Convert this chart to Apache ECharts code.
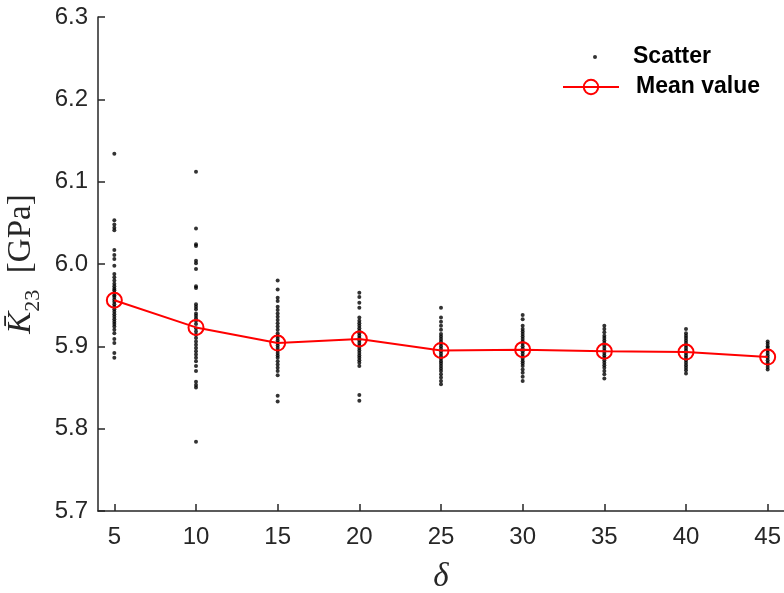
<!DOCTYPE html>
<html>
<head>
<meta charset="utf-8">
<script src="https://cdn.jsdelivr.net/npm/echarts@6/dist/echarts.min.js"></script>
<style>html,body{margin:0;padding:0;background:#fff}#c{width:784px;height:593px}</style>
</head>
<body>
<div id="c"></div>
<script>
// ---- data ----
var deltas = [5, 10, 15, 20, 25, 30, 35, 40, 45];
var xTickLabels = ['5', '10', '15', '20', '25', '30', '35', '40', '45'];
var yTickLabels = ['5.7', '5.8', '5.9', '6.0', '6.1', '6.2', '6.3'];
var meanValues = [5.956, 5.923, 5.904, 5.909, 5.895, 5.896, 5.894, 5.893, 5.887];

var scatter5 = [6.134, 6.053, 6.048, 6.044, 6.041, 6.017, 6.011, 6.006, 5.998, 5.988, 5.984, 5.980, 5.976, 5.973, 5.970, 5.968, 5.965, 5.962, 5.960, 5.957, 5.954, 5.951, 5.948, 5.945, 5.942, 5.939, 5.936, 5.933, 5.930, 5.927, 5.924, 5.920, 5.916, 5.909, 5.904, 5.892, 5.886];
var scatter10 = [6.112, 6.043, 6.024, 6.022, 6.004, 6.001, 5.994, 5.973, 5.971, 5.951, 5.948, 5.945, 5.940, 5.937, 5.934, 5.931, 5.927, 5.922, 5.918, 5.914, 5.910, 5.906, 5.902, 5.898, 5.894, 5.890, 5.886, 5.882, 5.876, 5.870, 5.857, 5.853, 5.850, 5.784];
var scatter15 = [5.980, 5.969, 5.959, 5.955, 5.948, 5.944, 5.940, 5.936, 5.932, 5.928, 5.924, 5.920, 5.916, 5.913, 5.910, 5.907, 5.904, 5.901, 5.898, 5.895, 5.892, 5.889, 5.886, 5.882, 5.878, 5.874, 5.870, 5.865, 5.840, 5.833];
var scatter20 = [5.965, 5.960, 5.953, 5.947, 5.935, 5.931, 5.928, 5.925, 5.922, 5.919, 5.916, 5.913, 5.910, 5.907, 5.904, 5.901, 5.898, 5.895, 5.892, 5.889, 5.886, 5.883, 5.880, 5.876, 5.841, 5.834];
var scatter25 = [5.947, 5.935, 5.930, 5.925, 5.920, 5.915, 5.912, 5.909, 5.906, 5.903, 5.900, 5.897, 5.894, 5.891, 5.888, 5.885, 5.882, 5.879, 5.876, 5.873, 5.870, 5.866, 5.862, 5.858, 5.854];
var scatter30 = [5.938, 5.933, 5.925, 5.921, 5.918, 5.915, 5.912, 5.909, 5.906, 5.903, 5.900, 5.897, 5.894, 5.891, 5.888, 5.885, 5.882, 5.879, 5.876, 5.872, 5.868, 5.863, 5.858];
var scatter35 = [5.925, 5.921, 5.917, 5.913, 5.910, 5.907, 5.904, 5.901, 5.898, 5.895, 5.892, 5.889, 5.886, 5.883, 5.880, 5.877, 5.874, 5.870, 5.866, 5.861];
var scatter40 = [5.921, 5.916, 5.913, 5.910, 5.907, 5.904, 5.901, 5.898, 5.895, 5.892, 5.889, 5.886, 5.883, 5.880, 5.877, 5.874, 5.871, 5.867];
var scatter45 = [5.906, 5.903, 5.900, 5.898, 5.895, 5.892, 5.889, 5.886, 5.883, 5.880, 5.878, 5.875, 5.872];

var scatterColumns = [scatter5, scatter10, scatter15, scatter20, scatter25, scatter30, scatter35, scatter40, scatter45];

// ---- build series data ----
var scatterData = [];
scatterColumns.forEach(function (col, i) {
  col.forEach(function (v) { scatterData.push([deltas[i], v]); });
});
var meanData = deltas.map(function (d, i) { return [d, meanValues[i]]; });

var axisColor = '#262626';
var sans = 'Arial, "Liberation Sans", Helvetica, sans-serif';
var serif = '"Liberation Serif", "Times New Roman", "DejaVu Serif", serif';

var chart = echarts.init(document.getElementById('c'), null, {renderer: 'canvas'});
chart.setOption({
  animation: false,
  backgroundColor: '#fff',
  grid: {left: 98, top: 17, width: 686, height: 494, containLabel: false, outerBoundsMode: 'none'},
  legend: [
    {
      data: [{name: 'Scatter', icon: 'circle'}],
      left: 593, top: 45, orient: 'vertical', padding: 0,
      itemWidth: 8, itemHeight: 4,
      textStyle: {fontFamily: sans, fontWeight: 'bold', fontSize: 23, lineHeight: 24, color: '#000', padding: [0, 0, 0, 29]},
      selectedMode: false
    },
    {
      data: ['Mean value'],
      left: 562, top: 75, orient: 'vertical', padding: 0,
      itemWidth: 56, itemHeight: 18,
      textStyle: {fontFamily: sans, fontWeight: 'bold', fontSize: 23, lineHeight: 24, color: '#000', padding: [0, 0, 0, 12]},
      selectedMode: false
    }
  ],
  xAxis: {
    type: 'value', min: 4, max: 46,
    name: 'δ', nameLocation: 'middle', nameGap: 50,
    nameTextStyle: {fontFamily: serif, fontStyle: 'italic', fontSize: 33, color: axisColor},
    axisLine: {show: true, onZero: false, lineStyle: {color: axisColor, width: 1.5}},
    axisTick: {show: true, inside: true, length: 7, customValues: deltas, lineStyle: {color: axisColor, width: 1.5}},
    axisLabel: {
      customValues: deltas, margin: 14,
      fontFamily: sans, fontSize: 24, color: axisColor,
      formatter: function (v) { var i = deltas.indexOf(v); return i >= 0 ? xTickLabels[i] : ''; }
    },
    splitLine: {show: false}
  },
  yAxis: {
    type: 'value', min: 5.7, max: 6.3, interval: 0.1,
    name: '{k|K\u0304}{sub|23}{n|  [GPa]}', nameLocation: 'middle', nameGap: 47,
    nameTextStyle: {
      color: axisColor,
      rich: {
        k: {fontFamily: serif, fontStyle: 'italic', fontSize: 33, color: axisColor, verticalAlign: 'bottom', lineHeight: 36},
        sub: {fontFamily: serif, fontSize: 22, color: axisColor, verticalAlign: 'bottom', lineHeight: 36, padding: [0, 0, -6, 0]},
        n: {fontFamily: serif, fontSize: 33, color: axisColor, verticalAlign: 'bottom', lineHeight: 36}
      }
    },
    axisLine: {show: true, lineStyle: {color: axisColor, width: 1.5}},
    axisTick: {show: true, inside: true, length: 7, lineStyle: {color: axisColor, width: 1.5}},
    axisLabel: {
      margin: 10, fontFamily: sans, fontSize: 24, color: axisColor,
      formatter: function (v) { return (Math.round(v * 10) / 10).toFixed(1); }
    },
    splitLine: {show: false}
  },
  series: [
    {
      name: 'Scatter', type: 'scatter', data: scatterData,
      symbol: 'circle', symbolSize: 4,
      itemStyle: {color: '#000'}, z: 2, silent: true
    },
    {
      name: 'Mean value', type: 'line', data: meanData,
      symbol: 'circle', symbolSize: 15, showAllSymbol: true,
      lineStyle: {color: '#ff0000', width: 2},
      itemStyle: {color: 'rgba(255,255,255,0)', borderColor: '#ff0000', borderWidth: 2},
      z: 3, silent: true
    }
  ]
});
</script>
</body>
</html>
